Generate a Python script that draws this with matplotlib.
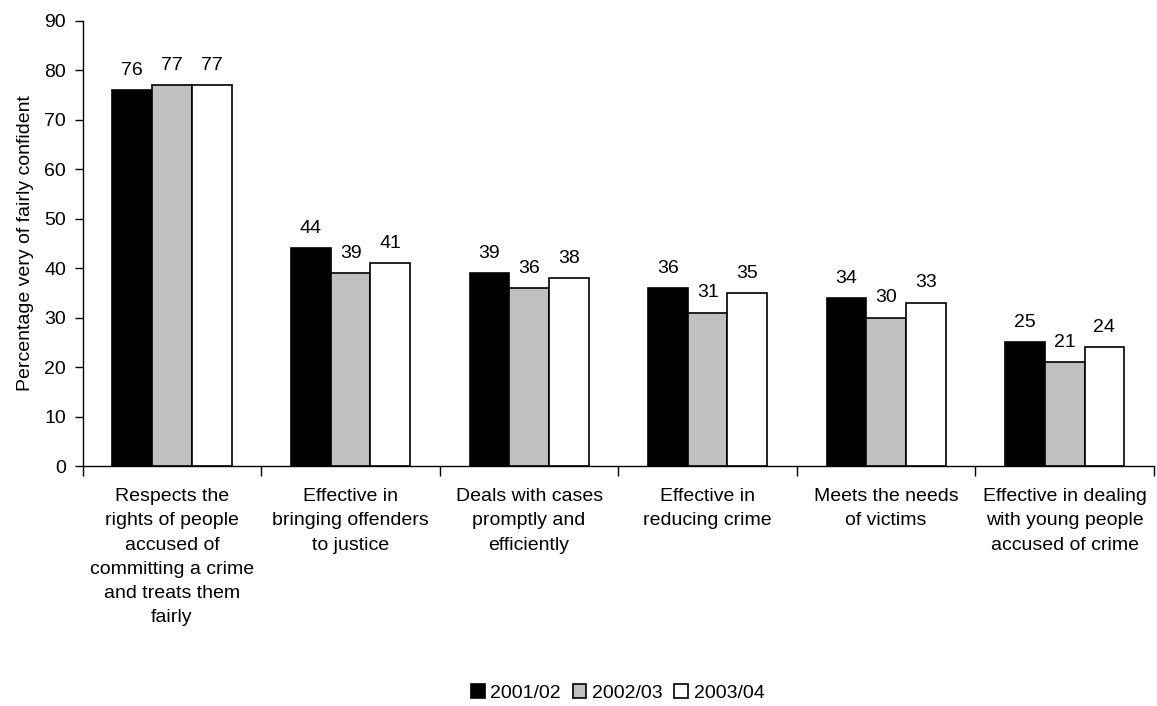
import numpy as np
import matplotlib
matplotlib.use("Agg")
import matplotlib.pyplot as plt

plt.rcParams['font.family'] = ['Liberation Sans', 'DejaVu Sans']

# Confidence in the criminal justice system, by survey year
categories = [
    "Respects the\nrights of people\naccused of\ncommitting a crime\nand treats them\nfairly",
    "Effective in\nbringing offenders\nto justice",
    "Deals with cases\npromptly and\nefficiently",
    "Effective in\nreducing crime",
    "Meets the needs\nof victims",
    "Effective in dealing\nwith young people\naccused of crime",
]
years = ["2001/02", "2002/03", "2003/04"]
values_2001 = [76, 44, 39, 36, 34, 25]
values_2002 = [77, 39, 36, 31, 30, 21]
values_2003 = [77, 41, 38, 35, 33, 24]
series = [values_2001, values_2002, values_2003]
colours = ["#000000", "#c0c0c0", "#ffffff"]

FS = 14

fig = plt.figure(figsize=(11.57, 7.06), dpi=100)
ax = fig.add_axes([0.0715, 0.3399, 0.9259, 0.6308])

x = np.arange(len(categories))
w = 2 / 9
for j, (vals, col, lab) in enumerate(zip(series, colours, years)):
    pos = x + (j - 1) * w
    bars = ax.bar(pos, vals, width=w, color=col, edgecolor="black",
                  linewidth=1.2, label=lab, zorder=2)
    for b, v in zip(bars, vals):
        ax.annotate(f"{v}", (b.get_x() + b.get_width() / 2, v),
                    xytext=(0, 11), textcoords="offset points",
                    ha="center", va="baseline", fontsize=FS)

ax.set_xlim(-0.5, len(categories) - 0.5)
ax.set_ylim(0, 90)
ax.set_yticks(np.arange(0, 91, 10))

# category boundaries get the tick marks, labels sit between them
ax.set_xticks(np.arange(-0.5, len(categories), 1.0))
ax.set_xticklabels([])
ax.set_xticks(x, minor=True)
ax.set_xticklabels(categories, minor=True, fontsize=FS, linespacing=1.55)
ax.tick_params(axis="x", which="major", direction="out", length=7, width=1)
ax.tick_params(axis="x", which="minor", length=0, pad=16)
ax.tick_params(axis="y", direction="out", length=6, width=1, pad=6,
               labelsize=FS)

for s in ("top", "right"):
    ax.spines[s].set_visible(False)
for s in ("left", "bottom"):
    ax.spines[s].set_linewidth(1)

ax.set_ylabel("Percentage very of fairly confident", fontsize=FS)
ax.yaxis.set_label_coords(-0.0455, 0.5)

fig.legend(loc="center", bbox_to_anchor=(0.534, 0.018), ncol=3,
           frameon=False, fontsize=FS, handlelength=0.7, handleheight=0.7,
           handletextpad=0.3, columnspacing=0.6)

fig.savefig("out.png", dpi=100)
